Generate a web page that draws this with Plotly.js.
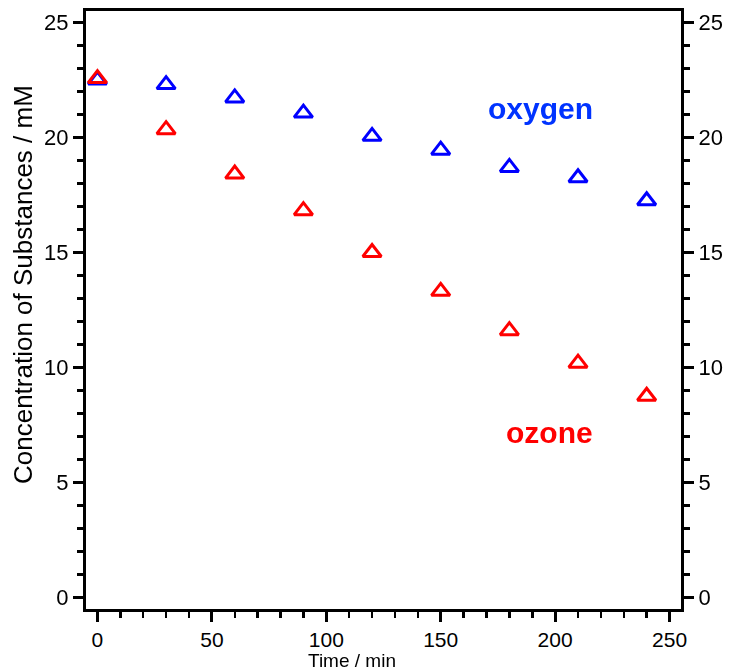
<!DOCTYPE html>
<html>
<head>
<meta charset="utf-8">
<script src="https://cdn.plot.ly/plotly-3.0.1.min.js"></script>
<style>html,body{margin:0;padding:0;background:#fff;}#chart{width:729px;height:672px;}</style>
</head>
<body>
<div id="chart"></div>
<script>
const timeMin = [0, 30, 60, 90, 120, 150, 180, 210, 240];
const oxygen = [22.5, 22.3, 21.72, 21.06, 20.05, 19.45, 18.7, 18.25, 17.25];
const ozone = [22.56, 20.34, 18.41, 16.82, 15.0, 13.31, 11.6, 10.19, 8.75];
const seriesNames = ["oxygen", "ozone"];
const xTitle = "Time / min";
const yTitle = "Concentration of Substances / mM";

const FONT = "Liberation Sans, Arial, Helvetica, sans-serif";
const mk = (c) => ({symbol: "triangle-up-open", size: 16, color: c, line: {color: c, width: 3}});

const traces = [
  {x: timeMin, y: oxygen, mode: "markers", type: "scatter", name: seriesNames[0], marker: mk("#0000ff"), cliponaxis: false},
  {x: timeMin, y: ozone, mode: "markers", type: "scatter", name: seriesNames[1], marker: mk("#ff0000"), cliponaxis: false},
  {x: timeMin, y: oxygen, mode: "markers", type: "scatter", yaxis: "y2", opacity: 0, hoverinfo: "skip", showlegend: false, marker: {size: 1}}
];

const axCommon = {
  showline: true, linecolor: "#000", linewidth: 3,
  ticks: "outside", ticklen: 10, tickwidth: 3, tickcolor: "#000",
  showgrid: false, zeroline: false,
  tickfont: {family: FONT, size: 22, color: "#000"}
};

const layout = {
  width: 729, height: 672,
  margin: {l: 86, r: 48, t: 11, b: 63, pad: 0},
  paper_bgcolor: "#fff", plot_bgcolor: "#fff",
  showlegend: false,
  xaxis: Object.assign({}, axCommon, {
    range: [-5, 255], dtick: 50, tick0: 0, mirror: true,
    tickfont: {family: FONT, size: 21, color: "#000"},
    minor: {dtick: 10, ticks: "outside", ticklen: 6, tickwidth: 2.5, tickcolor: "#000", showgrid: false}
  }),
  yaxis: Object.assign({}, axCommon, {
    range: [-0.5, 25.5], dtick: 5, tick0: 0,
    minor: {dtick: 1, ticks: "outside", ticklen: 6, tickwidth: 2.5, tickcolor: "#000", showgrid: false}
  }),
  yaxis2: Object.assign({}, axCommon, {
    range: [-0.5, 25.5], dtick: 5, tick0: 0, overlaying: "y", side: "right", anchor: "x",
    minor: {dtick: 1, ticks: "outside", ticklen: 6, tickwidth: 2.5, tickcolor: "#000", showgrid: false}
  }),
  annotations: [
    {text: "<b>" + seriesNames[0] + "</b>", x: 540, y: 108, showarrow: false,
     font: {family: FONT, size: 30, color: "#0033ff"}},
    {text: "<b>" + seriesNames[1] + "</b>", x: 549, y: 432, showarrow: false,
     font: {family: FONT, size: 30, color: "#ff0000"}},
    {text: xTitle, x: 352, y: 660, showarrow: false, borderpad: 0, font: {family: FONT, size: 19, color: "#000"}},
    {text: yTitle, x: 23, y: 285, showarrow: false, textangle: -90, font: {family: FONT, size: 26, color: "#000"}}
  ]
};

// convert pixel-placed annotations into paper coords
const pw = 729 - 86 - 48, ph = 672 - 11 - 63;
layout.annotations.forEach(a => {
  a.xref = "paper"; a.yref = "paper";
  a.x = (a.x - 86) / pw; a.y = (672 - 63 - a.y) / ph;
  a.xanchor = "center"; a.yanchor = "middle";
});

Plotly.newPlot("chart", traces, layout, {displayModeBar: false, staticPlot: true});
</script>
</body>
</html>
